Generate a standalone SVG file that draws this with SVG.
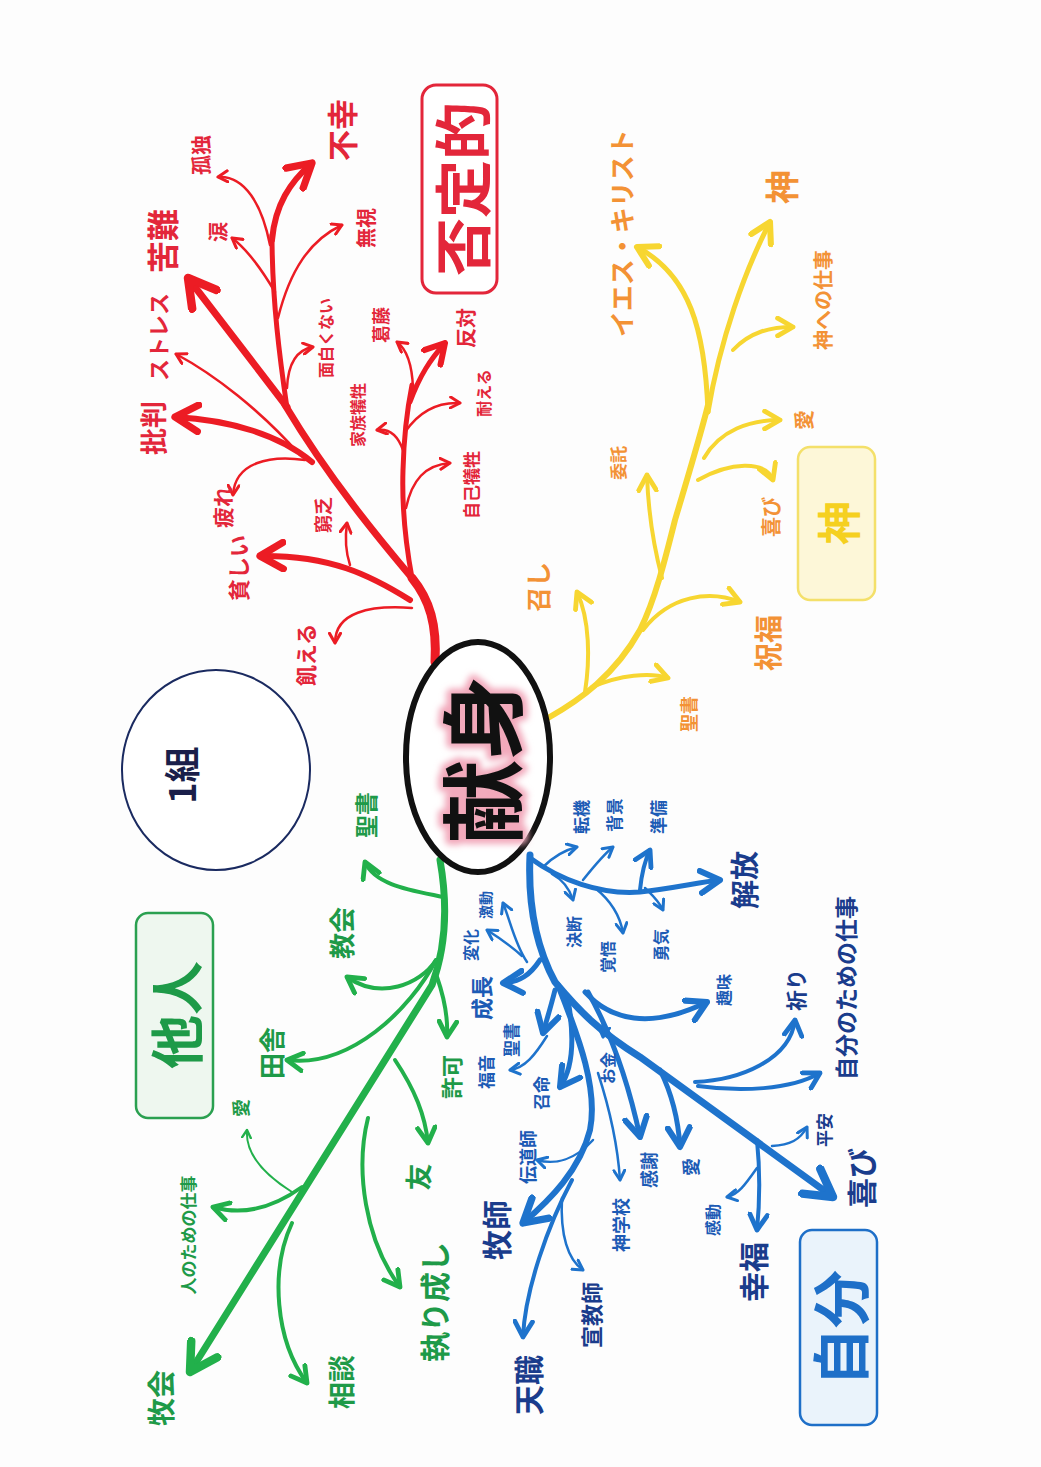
<svg xmlns="http://www.w3.org/2000/svg" width="1041" height="1467" viewBox="0 0 1041 1467">
<style>
text{font-family:"Noto Sans CJK JP","Noto Sans",sans-serif;font-weight:700;text-anchor:middle;dominant-baseline:central}
.r{fill:#e3263a}.y{fill:#f39235}.g{fill:#1e9a48}.b{fill:#1c5bb5}.bd{fill:#1a3c8c}
.lr{fill:none;stroke:#ec1c24;stroke-linecap:round}
.ly{fill:none;stroke:#f7d631;stroke-linecap:round}
.lg{fill:none;stroke:#22b04b;stroke-linecap:round}
.lb{fill:none;stroke:#1e73cc;stroke-linecap:round}
</style>
<defs>
<filter id="halo" x="-20%" y="-20%" width="140%" height="140%"><feGaussianBlur stdDeviation="3"/></filter>
<marker id="aR" viewBox="0 0 10 10" refX="8" refY="5" markerWidth="5.5" markerHeight="5.5" orient="auto" markerUnits="strokeWidth"><path d="M1,1 L8,5 L1,9" fill="none" stroke="#ec1c24" stroke-width="2.2" stroke-linecap="round" stroke-linejoin="round"/></marker>
<marker id="aY" viewBox="0 0 10 10" refX="8" refY="5" markerWidth="5.5" markerHeight="5.5" orient="auto" markerUnits="strokeWidth"><path d="M1,1 L8,5 L1,9" fill="none" stroke="#f7d631" stroke-width="2.2" stroke-linecap="round" stroke-linejoin="round"/></marker>
<marker id="aG" viewBox="0 0 10 10" refX="8" refY="5" markerWidth="5.5" markerHeight="5.5" orient="auto" markerUnits="strokeWidth"><path d="M1,1 L8,5 L1,9" fill="none" stroke="#22b04b" stroke-width="2.2" stroke-linecap="round" stroke-linejoin="round"/></marker>
<marker id="aB" viewBox="0 0 10 10" refX="8" refY="5" markerWidth="5.5" markerHeight="5.5" orient="auto" markerUnits="strokeWidth"><path d="M1,1 L8,5 L1,9" fill="none" stroke="#1e73cc" stroke-width="2.2" stroke-linecap="round" stroke-linejoin="round"/></marker>
</defs>
<rect width="1041" height="1467" fill="#fdfdfd"/>

<g id="connectors">
<g class="lr">
<path d="M435,662 C437,625 430,600 412,578" stroke-width="9"/>
<path d="M412,578 C380,540 330,480 285,405" stroke-width="7"/>
<path d="M287,407 L188,278" stroke-width="7" marker-end="url(#aR)"/>
<path d="M287,408 C280,360 272,300 272,235" stroke-width="5"/>
<path d="M272,240 C275,205 290,182 312,163" stroke-width="6" marker-end="url(#aR)"/>
<path d="M270,245 C262,205 245,175 218,177" stroke-width="2.5" marker-end="url(#aR)"/>
<path d="M275,292 C262,270 248,250 232,238" stroke-width="2.5" marker-end="url(#aR)"/>
<path d="M278,318 C290,270 310,240 342,225" stroke-width="2.5" marker-end="url(#aR)"/>
<path d="M287,388 C288,365 295,350 313,347" stroke-width="2.5" marker-end="url(#aR)"/>
<path d="M300,455 C260,410 215,375 176,354" stroke-width="2.5" marker-end="url(#aR)"/>
<path d="M312,462 C280,435 230,420 175,417" stroke-width="6" marker-end="url(#aR)"/>
<path d="M305,460 C270,455 235,462 233,495" stroke-width="2.5" marker-end="url(#aR)"/>
<path d="M410,600 C370,575 330,555 260,556" stroke-width="6" marker-end="url(#aR)"/>
<path d="M350,565 C345,550 345,537 347,523" stroke-width="2.5" marker-end="url(#aR)"/>
<path d="M412,608 C370,605 335,612 335,643" stroke-width="2.5" marker-end="url(#aR)"/>
<path d="M412,578 C405,540 402,500 403,470 C404,430 408,405 412,385" stroke-width="5"/>
<path d="M410,402 C420,375 430,360 445,343" stroke-width="5" marker-end="url(#aR)"/>
<path d="M413,388 C412,362 405,348 397,342" stroke-width="2.5" marker-end="url(#aR)"/>
<path d="M403,450 C398,436 390,428 377,430" stroke-width="2.5" marker-end="url(#aR)"/>
<path d="M405,432 C420,410 440,402 460,403" stroke-width="2.5" marker-end="url(#aR)"/>
<path d="M406,508 C412,480 425,465 450,463" stroke-width="2.5" marker-end="url(#aR)"/>
</g>
<g class="ly">
<path d="M548,718 C580,700 615,675 640,630 C655,600 665,560 675,520 C690,470 702,430 708,405" stroke-width="6"/>
<path d="M708,412 C705,330 690,275 637,247" stroke-width="5" marker-end="url(#aY)"/>
<path d="M708,412 C720,340 745,270 770,222" stroke-width="5" marker-end="url(#aY)"/>
<path d="M733,350 C750,332 770,327 793,327" stroke-width="4" marker-end="url(#aY)"/>
<path d="M592,687 C620,675 650,672 668,678" stroke-width="4" marker-end="url(#aY)"/>
<path d="M585,692 C590,660 590,620 577,592" stroke-width="4" marker-end="url(#aY)"/>
<path d="M643,630 C670,595 710,590 740,602" stroke-width="4" marker-end="url(#aY)"/>
<path d="M662,578 C652,540 648,505 647,475" stroke-width="4" marker-end="url(#aY)"/>
<path d="M698,480 C730,462 765,460 773,480" stroke-width="4" marker-end="url(#aY)"/>
<path d="M704,458 C720,430 750,420 780,420" stroke-width="4" marker-end="url(#aY)"/>
</g>
<g class="lg">
<path d="M440,860 C447,900 447,945 432,985 L190,1372" stroke-width="7" marker-end="url(#aG)"/>
<path d="M443,897 C410,890 375,885 365,862" stroke-width="4" marker-end="url(#aG)"/>
<path d="M436,960 C420,985 380,1000 347,977" stroke-width="4" marker-end="url(#aG)"/>
<path d="M436,960 C410,1010 350,1068 287,1060" stroke-width="4" marker-end="url(#aG)"/>
<path d="M437,977 C445,1000 448,1020 447,1037" stroke-width="4" marker-end="url(#aG)"/>
<path d="M395,1060 C415,1090 425,1115 428,1143" stroke-width="4" marker-end="url(#aG)"/>
<path d="M368,1118 C355,1170 365,1240 400,1287" stroke-width="4" marker-end="url(#aG)"/>
<path d="M292,1223 C270,1270 275,1340 307,1383" stroke-width="4" marker-end="url(#aG)"/>
<path d="M302,1187 C270,1210 240,1215 213,1207" stroke-width="4" marker-end="url(#aG)"/>
<path d="M292,1192 C265,1175 245,1155 247,1130" stroke-width="2" marker-end="url(#aG)"/>
</g>
<g class="lb">
<path d="M530,855 C528,900 535,945 555,982 C580,1012 600,1032 640,1057 L833,1197" stroke-width="7" marker-end="url(#aB)"/>
<path d="M530,858 C560,880 600,895 640,892 C675,888 700,882 720,880" stroke-width="5" marker-end="url(#aB)"/>
<path d="M543,867 C555,855 565,850 577,847" stroke-width="2.5" marker-end="url(#aB)"/>
<path d="M583,880 C595,865 603,855 613,847" stroke-width="2.5" marker-end="url(#aB)"/>
<path d="M640,890 C642,870 645,860 650,850" stroke-width="4" marker-end="url(#aB)"/>
<path d="M645,888 C652,895 658,900 663,910" stroke-width="2.5" marker-end="url(#aB)"/>
<path d="M552,874 C563,880 570,890 573,900" stroke-width="2.5" marker-end="url(#aB)"/>
<path d="M595,888 C610,900 620,915 623,933" stroke-width="2.5" marker-end="url(#aB)"/>
<path d="M540,960 C530,975 520,982 503,983" stroke-width="5" marker-end="url(#aB)"/>
<path d="M527,962 C515,945 510,920 503,903" stroke-width="2.5" marker-end="url(#aB)"/>
<path d="M522,956 C510,945 498,937 487,930" stroke-width="2.5" marker-end="url(#aB)"/>
<path d="M555,990 C550,1010 546,1022 543,1033" stroke-width="5" marker-end="url(#aB)"/>
<path d="M547,1036 C535,1055 525,1068 510,1070" stroke-width="2.5" marker-end="url(#aB)"/>
<path d="M568,1000 C575,1040 572,1070 560,1087" stroke-width="5" marker-end="url(#aB)"/>
<path d="M598,1012 C603,1020 604,1028 603,1037" stroke-width="2.5" marker-end="url(#aB)"/>
<path d="M588,992 C615,1040 630,1090 640,1137" stroke-width="5" marker-end="url(#aB)"/>
<path d="M660,1070 C670,1090 678,1115 680,1147" stroke-width="5" marker-end="url(#aB)"/>
<path d="M585,992 C610,1020 650,1030 707,1002" stroke-width="5" marker-end="url(#aB)"/>
<path d="M695,1082 C740,1080 790,1060 795,1020" stroke-width="4" marker-end="url(#aB)"/>
<path d="M698,1086 C740,1092 790,1090 820,1073" stroke-width="4" marker-end="url(#aB)"/>
<path d="M772,1146 C790,1145 800,1140 807,1127" stroke-width="2.5" marker-end="url(#aB)"/>
<path d="M757,1140 C760,1170 760,1200 757,1230" stroke-width="4" marker-end="url(#aB)"/>
<path d="M757,1168 C745,1185 738,1195 727,1197" stroke-width="2.5" marker-end="url(#aB)"/>
<path d="M558,985 C580,1040 598,1090 590,1130 C580,1170 550,1200 523,1223" stroke-width="6" marker-end="url(#aB)"/>
<path d="M572,1180 C548,1225 525,1290 523,1337" stroke-width="4" marker-end="url(#aB)"/>
<path d="M593,1140 C575,1160 555,1165 537,1160" stroke-width="2.5" marker-end="url(#aB)"/>
<path d="M598,1073 C610,1110 618,1150 620,1180" stroke-width="2.5" marker-end="url(#aB)"/>
<path d="M562,1198 C560,1235 568,1260 583,1270" stroke-width="2.5" marker-end="url(#aB)"/>
</g>
</g>

<g id="center">
<ellipse cx="478" cy="757" rx="72" ry="115" fill="#fff" stroke="#111" stroke-width="6"/>
<text transform="translate(478,760) rotate(-90)" font-size="84" font-weight="500" fill="none" stroke="#f2a9bb" stroke-width="10" stroke-linejoin="round" filter="url(#halo)">献身</text>
<text transform="translate(478,760) rotate(-90)" font-size="84" font-weight="500" fill="#111">献身</text>
</g>
<g id="group1">
<ellipse cx="216" cy="770" rx="94" ry="100" fill="#fff" stroke="#1a2a60" stroke-width="2"/>
<text transform="translate(180,775) rotate(-90)" font-size="36" fill="#1a1f4a">1組</text>
</g>

<g id="cat-hiteiteki">
<rect x="422" y="85" width="75" height="208" rx="14" fill="#fff" stroke="#e3263a" stroke-width="3"/>
<text class="r" transform="translate(460,189) rotate(-90)" font-size="58" font-weight="400">否定的</text>
</g>
<g id="cat-kami">
<rect x="798" y="447" width="77" height="153" rx="12" fill="#fdf7d8" stroke="#f4e06a" stroke-width="2.5"/>
<text transform="translate(837,523) rotate(-90)" font-size="44" fill="#f5d020">神</text>
</g>
<g id="cat-tanin">
<rect x="136" y="913" width="77" height="205" rx="12" fill="#eef7ef" stroke="#2aa050" stroke-width="2.5"/>
<text class="g" transform="translate(174,1015) rotate(-90)" font-size="54" font-weight="400">他人</text>
</g>
<g id="cat-jibun">
<rect x="800" y="1230" width="77" height="195" rx="12" fill="#eaf3fb" stroke="#1e6fc8" stroke-width="2.5"/>
<text transform="translate(838,1328) rotate(-90)" font-size="58" font-weight="400" fill="#1e6fc8">自分</text>
</g>

<g id="red-labels">
<g id="n-fukou"><text class="r" transform="translate(340,130) rotate(-90)" font-size="31">不幸</text></g>
<g id="n-kodoku"><text class="r" transform="translate(200,155) rotate(-90)" font-size="20">孤独</text></g>
<g id="n-kunan"><text class="r" transform="translate(161,241) rotate(-90)" font-size="32">苦難</text></g>
<g id="n-namida"><text class="r" transform="translate(217,232) rotate(-90)" font-size="20">涙</text></g>
<g id="n-mushi"><text class="r" transform="translate(365,228) rotate(-90)" font-size="20">無視</text></g>
<g id="n-stress"><text class="r" transform="translate(157,337) rotate(-90)" font-size="22">ストレス</text></g>
<g id="n-omoshiro"><text class="r" transform="translate(325,338) rotate(-90)" font-size="16">面白くない</text></g>
<g id="n-katto"><text class="r" transform="translate(380,325) rotate(-90)" font-size="18">葛藤</text></g>
<g id="n-hantai"><text class="r" transform="translate(465,328) rotate(-90)" font-size="20">反対</text></g>
<g id="n-kazoku"><text class="r" transform="translate(357,415) rotate(-90)" font-size="16">家族犠牲</text></g>
<g id="n-taeru"><text class="r" transform="translate(483,393) rotate(-90)" font-size="16">耐える</text></g>
<g id="n-hihan"><text class="r" transform="translate(152,428) rotate(-90)" font-size="27">批判</text></g>
<g id="n-jiko"><text class="r" transform="translate(470,485) rotate(-90)" font-size="17">自己犠牲</text></g>
<g id="n-tsukare"><text class="r" transform="translate(222,507) rotate(-90)" font-size="21">疲れ</text></g>
<g id="n-kyubo"><text class="r" transform="translate(322,515) rotate(-90)" font-size="18">窮乏</text></g>
<g id="n-mazushii"><text class="r" transform="translate(237,568) rotate(-90)" font-size="22">貧しい</text></g>
<g id="n-ueru"><text class="r" transform="translate(305,655) rotate(-90)" font-size="21">飢える</text></g>
</g>

<g id="yellow-labels">
<g id="n-iesu"><text class="y" transform="translate(620,233) rotate(-90)" font-size="26" font-weight="400">イエス・キリスト</text></g>
<g id="n-kami"><text class="y" transform="translate(780,187) rotate(-90)" font-size="34" fill="#f08020">神</text></g>
<g id="n-kamishigoto"><text class="y" transform="translate(822,300) rotate(-90)" font-size="20" font-weight="400">神への仕事</text></g>
<g id="n-ai-y"><text class="y" transform="translate(803,420) rotate(-90)" font-size="20">愛</text></g>
<g id="n-itaku"><text class="y" transform="translate(617,463) rotate(-90)" font-size="17">委託</text></g>
<g id="n-yorokobi-y"><text class="y" transform="translate(770,517) rotate(-90)" font-size="20">喜び</text></g>
<g id="n-meshi"><text class="y" transform="translate(537,587) rotate(-90)" font-size="25" font-weight="400">召し</text></g>
<g id="n-shukufuku"><text class="y" transform="translate(767,643) rotate(-90)" font-size="28">祝福</text></g>
<g id="n-seisho-y"><text class="y" transform="translate(688,714) rotate(-90)" font-size="18">聖書</text></g>
</g>

<g id="green-labels">
<g id="n-seisho-g"><text class="g" transform="translate(365,815) rotate(-90)" font-size="23">聖書</text></g>
<g id="n-kyokai"><text class="g" transform="translate(340,933) rotate(-90)" font-size="26">教会</text></g>
<g id="n-inaka"><text class="g" transform="translate(270,1053) rotate(-90)" font-size="26">田舎</text></g>
<g id="n-kyoka"><text class="g" transform="translate(450,1077) rotate(-90)" font-size="22">許可</text></g>
<g id="n-ai-g"><text class="g" transform="translate(240,1108) rotate(-90)" font-size="18">愛</text></g>
<g id="n-hitoshigoto"><text class="g" transform="translate(187,1235) rotate(-90)" font-size="17">人のための仕事</text></g>
<g id="n-tomo"><text class="g" transform="translate(417,1177) rotate(-90)" font-size="27">友</text></g>
<g id="n-torinashi"><text class="g" transform="translate(433,1302) rotate(-90)" font-size="30">執り成し</text></g>
<g id="n-bokkai"><text class="g" transform="translate(160,1398) rotate(-90)" font-size="28">牧会</text></g>
<g id="n-sodan"><text class="g" transform="translate(340,1382) rotate(-90)" font-size="27">相談</text></g>
</g>

<g id="blue-labels">
<g id="n-tenki"><text class="b" transform="translate(580,817) rotate(-90)" font-size="17">転機</text></g>
<g id="n-haikei"><text class="b" transform="translate(613,815) rotate(-90)" font-size="17">背景</text></g>
<g id="n-junbi"><text class="b" transform="translate(657,817) rotate(-90)" font-size="17">準備</text></g>
<g id="n-kaiho"><text class="bd" transform="translate(743,880) rotate(-90)" font-size="29">解放</text></g>
<g id="n-gekido"><text class="b" transform="translate(485,905) rotate(-90)" font-size="14">激動</text></g>
<g id="n-henka"><text class="b" transform="translate(470,945) rotate(-90)" font-size="16">変化</text></g>
<g id="n-ketsudan"><text class="b" transform="translate(573,932) rotate(-90)" font-size="16">決断</text></g>
<g id="n-kakugo"><text class="b" transform="translate(607,957) rotate(-90)" font-size="16">覚悟</text></g>
<g id="n-yuki"><text class="b" transform="translate(660,945) rotate(-90)" font-size="16">勇気</text></g>
<g id="n-shumi"><text class="b" transform="translate(723,990) rotate(-90)" font-size="16">趣味</text></g>
<g id="n-inori"><text class="bd" transform="translate(795,990) rotate(-90)" font-size="21">祈り</text></g>
<g id="n-jibunshigoto"><text class="bd" transform="translate(845,988) rotate(-90)" font-size="23">自分のための仕事</text></g>
<g id="n-seicho"><text class="b" transform="translate(480,998) rotate(-90)" font-size="22">成長</text></g>
<g id="n-seisho-b"><text class="b" transform="translate(510,1040) rotate(-90)" font-size="17">聖書</text></g>
<g id="n-fukuin"><text class="b" transform="translate(485,1072) rotate(-90)" font-size="17">福音</text></g>
<g id="n-shomei"><text class="b" transform="translate(540,1093) rotate(-90)" font-size="17">召命</text></g>
<g id="n-okane"><text class="b" transform="translate(607,1068) rotate(-90)" font-size="16">お金</text></g>
<g id="n-dendoshi"><text class="b" transform="translate(527,1157) rotate(-90)" font-size="18">伝道師</text></g>
<g id="n-kansha"><text class="b" transform="translate(648,1170) rotate(-90)" font-size="18">感謝</text></g>
<g id="n-ai-b"><text class="b" transform="translate(690,1167) rotate(-90)" font-size="18">愛</text></g>
<g id="n-heian"><text class="bd" transform="translate(823,1130) rotate(-90)" font-size="17">平安</text></g>
<g id="n-yorokobi-b"><text class="bd" transform="translate(860,1178) rotate(-90)" font-size="30">喜び</text></g>
<g id="n-bokushi"><text class="bd" transform="translate(495,1230) rotate(-90)" font-size="30">牧師</text></g>
<g id="n-shingakko"><text class="b" transform="translate(620,1225) rotate(-90)" font-size="18">神学校</text></g>
<g id="n-kando"><text class="b" transform="translate(712,1220) rotate(-90)" font-size="16">感動</text></g>
<g id="n-kofuku"><text class="bd" transform="translate(752,1272) rotate(-90)" font-size="30">幸福</text></g>
<g id="n-senkyoshi"><text class="bd" transform="translate(590,1315) rotate(-90)" font-size="22">宣教師</text></g>
<g id="n-tenshoku"><text class="bd" transform="translate(527,1385) rotate(-90)" font-size="30">天職</text></g>
</g>
</svg>
